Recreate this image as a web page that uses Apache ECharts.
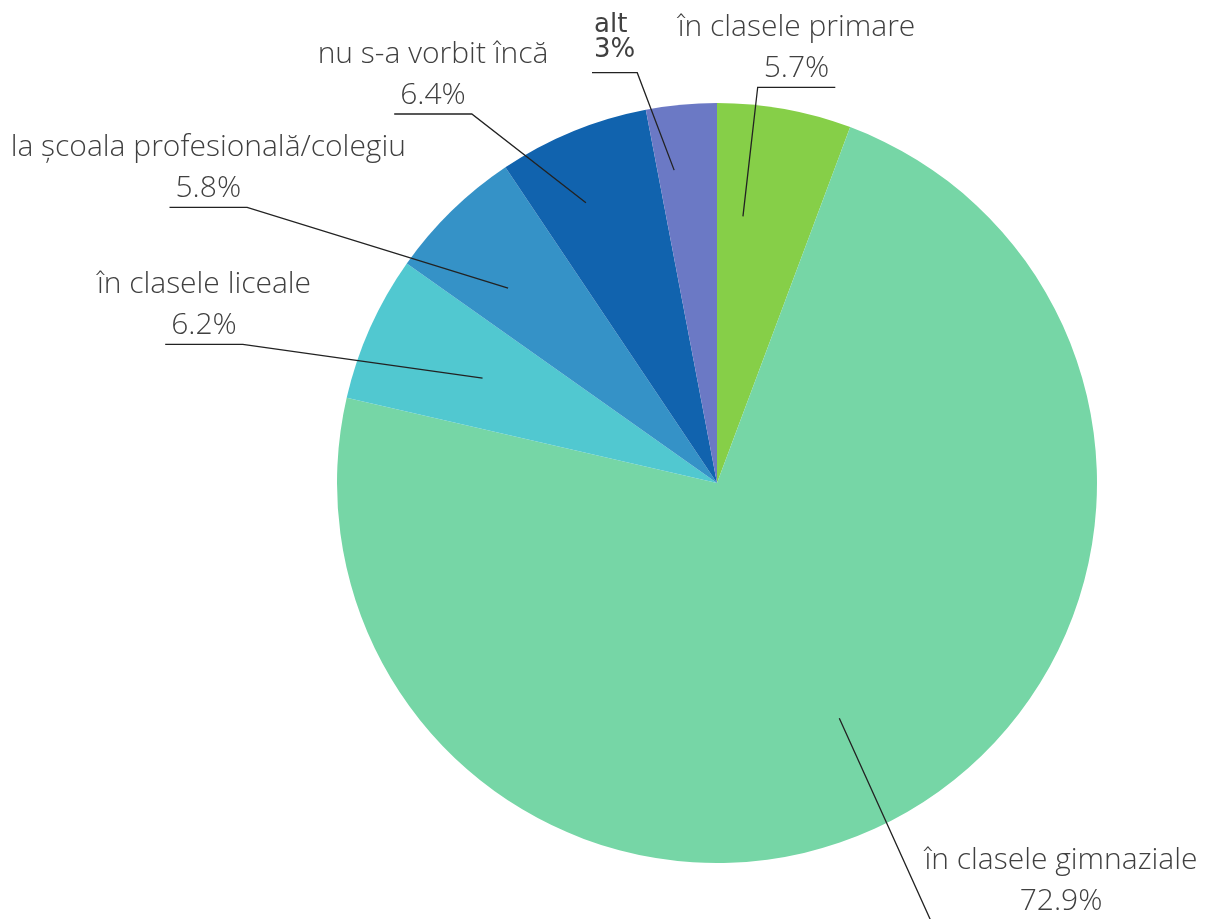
<!DOCTYPE html>
<html><head><meta charset="utf-8">
<script src="https://cdn.jsdelivr.net/npm/echarts@6/dist/echarts.min.js"></script>
<style>html,body{margin:0;padding:0;background:#fff}#main{width:1205px;height:919px}</style>
</head><body><div id="main"></div>
<script>
const categories = ['în clasele primare','în clasele gimnaziale','în clasele liceale','la școala profesională/colegiu','nu s-a vorbit încă','alt'];
const values = [5.7, 72.9, 6.2, 5.8, 6.4, 3];
const valueLabels = ['5.7%','72.9%','6.2%','5.8%','6.4%','3%'];
const colors = ['#86cf48','#76d6a6','#51c8d0','#3592c7','#1163ae','#6b79c5'];

// ---- layout / style config (not data) ----
const PIE = {cx: 717, cy: 483, r: 380};
const MAIN_FONT = {family: 'Open Sans', weight: 300, size: 30, lh: 41, color: '#404040'};
const ALT_FONT = {family: 'DejaVu Sans', weight: 400, size: 26, lh: 25, color: '#404040'};
// guide: inner point = angle shift (deg) from slice middle + radius fraction;
// label anchor = offset (px) from pie centre of the underline
const guides = [
  {shift: -4.7, rf: 0.705, lx: 79.5, ly: -395.7},
  {shift: 0.8, rf: 0.698, lx: 344, ly: 437, elbowX: 213.5},
  {shift: 0, rf: 0.676, lx: -513, ly: -138.7},
  {shift: -2.7, rf: 0.752, lx: -508.7, ly: -275.7},
  {shift: -2.75, rf: 0.814, lx: -284, ly: -369},
  {shift: -2.4, rf: 0.831, lx: -123, ly: -410.3, leftAlign: true}
];

const ctx = document.createElement('canvas').getContext('2d');
function textWidth(t, f) {
  ctx.font = f.weight + ' ' + f.size + 'px "' + f.family + '"';
  return ctx.measureText(t).width;
}
const total = values.reduce((a, b) => a + b, 0);

function richFor(f, align) {
  const s = {fontFamily: f.family, fontWeight: f.weight, fontSize: f.size, lineHeight: f.lh, color: f.color, align: align};
  return {n: s, v: Object.assign({}, s)};
}

const baseSeries = {
  type: 'pie',
  center: [PIE.cx, PIE.cy],
  radius: PIE.r,
  startAngle: 90,
  clockwise: true,
  avoidLabelOverlap: false,
  silent: true
};

const chart = echarts.init(document.getElementById('main'), null, {renderer: 'canvas'});
chart.setOption({
  backgroundColor: '#fff',
  animation: false,
  series: [
    Object.assign({}, baseSeries, {
      z: 2,
      data: categories.map((n, i) => ({name: n, value: values[i], itemStyle: {color: colors[i]}})),
      label: {show: false},
      labelLine: {show: false}
    }),
    Object.assign({}, baseSeries, {
      z: 5,
      data: categories.map((n, i) => {
        const d = {name: n, value: values[i], itemStyle: {color: 'rgba(0,0,0,0)'}};
        if (guides[i].leftAlign) d.label = {rich: richFor(ALT_FONT, 'left')};
        return d;
      }),
      label: {
        show: true,
        position: 'outside',
        width: 460,
        overflow: 'none',
        formatter: p => '{n|' + p.name + '}\n{v|' + valueLabels[p.dataIndex] + '}',
        rich: richFor(MAIN_FONT, 'center')
      },
      labelLine: {show: true, length: 10, length2: 10, smooth: false, lineStyle: {color: '#222', width: 1.3}},
      labelLayout: function (params) {
        const i = params.dataIndex;
        const g = guides[i];
        let before = 0;
        for (let k = 0; k < i; k++) before += values[k];
        const mid = (before + values[i] / 2) / total * 360 + g.shift;
        const rad = mid * Math.PI / 180;
        const ip = [PIE.cx + g.rf * PIE.r * Math.sin(rad), PIE.cy - g.rf * PIE.r * Math.cos(rad)];
        const ux = PIE.cx + g.lx, uy = PIE.cy + g.ly;
        const f = g.leftAlign ? ALT_FONT : MAIN_FONT;
        const w = textWidth(valueLabels[i], f);
        let x0, x1;
        if (g.leftAlign) { x0 = ux - 2; x1 = ux + w + 2; }
        else { x0 = ux - w / 2 - 6; x1 = ux + w / 2 + 6; }
        const left = ux < PIE.cx;
        const near = g.elbowX != null ? PIE.cx + g.elbowX : (left ? x1 : x0);
        const far = left ? x0 : x1;
        const gap = g.leftAlign ? 10 : -2;
        return {
          x: ux, y: uy - gap,
          align: g.leftAlign ? 'left' : 'center',
          verticalAlign: 'bottom',
          labelLinePoints: [ip, [near, uy], [far, uy]]
        };
      }
    })
  ]
});
</script>
</body></html>
